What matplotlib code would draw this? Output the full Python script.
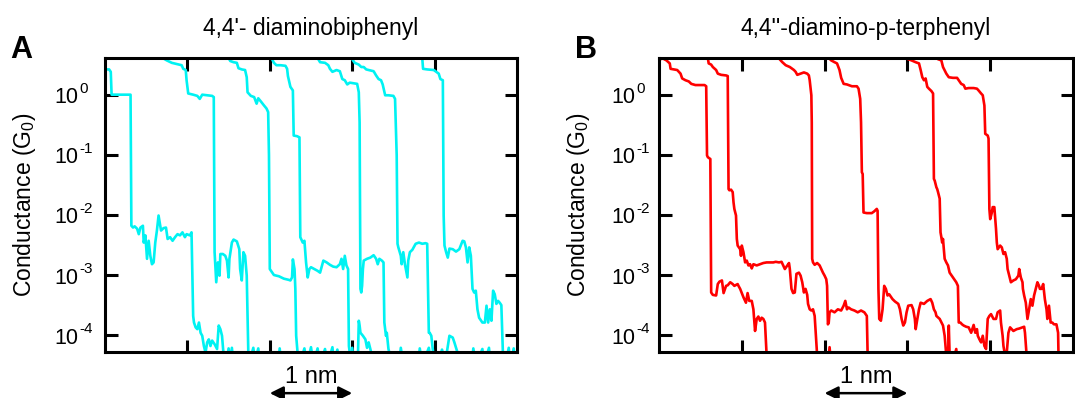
import matplotlib
matplotlib.use('Agg')
import matplotlib.pyplot as plt
from matplotlib.transforms import offset_copy
import numpy as np

plt.rcParams['font.family'] = ['Liberation Sans', 'DejaVu Sans']
plt.rcParams['mathtext.fontset'] = 'custom'
plt.rcParams['mathtext.rm'] = 'Liberation Sans'
plt.rcParams['mathtext.it'] = 'Liberation Sans:italic'
plt.rcParams['mathtext.bf'] = 'Liberation Sans:bold'
plt.rcParams['mathtext.default'] = 'regular'

# ---- data: (displacement in nm, log10 conductance in G0) ----
A1 = [(0.00,0.42),(0.05,0.42),(0.07,0.38),(0.08,0.00),(0.31,0.00),(0.32,-2.18),(0.34,-2.21),(0.36,-2.19),
      (0.39,-2.23),(0.41,-2.32),(0.43,-2.21),(0.46,-2.18),(0.47,-2.46),(0.49,-2.34),(0.51,-2.73),(0.53,-2.43),
      (0.55,-2.68),(0.57,-2.82),(0.59,-2.79),(0.61,-2.46),(0.63,-2.26),(0.65,-2.01),(0.68,-2.26),(0.71,-2.22),
      (0.74,-2.21),(0.76,-2.40),(0.79,-2.37),(0.82,-2.43),(0.85,-2.37),(0.88,-2.32),(0.91,-2.34),(0.94,-2.29),
      (0.97,-2.37),(0.99,-2.32),(1.03,-2.34),(1.05,-2.29),(1.07,-3.68),(1.08,-3.79),(1.10,-3.87),(1.12,-3.90),
      (1.14,-3.79),(1.16,-3.96),(1.18,-4.01),(1.20,-4.18),(1.22,-4.29),(1.24,-4.12),(1.26,-4.07),(1.28,-4.18),
      (1.30,-4.09),(1.33,-4.15),(1.36,-4.23),(1.38,-3.84),(1.40,-3.90),(1.42,-4.01),(1.44,-4.34),(1.47,-4.50),
      (1.50,-4.22),(1.52,-4.45),(1.54,-4.21),(1.56,-4.50)]
A2 = [(0.70,0.61),(0.75,0.57),(0.81,0.53),(0.87,0.51),(0.93,0.49),(0.95,0.43),(0.98,0.41),(0.99,0.24),
      (1.01,0.02),(1.07,0.00),(1.12,-0.02),(1.15,-0.07),(1.18,0.00),(1.24,-0.01),(1.30,-0.02),(1.32,-0.04),
      (1.33,-2.62),(1.35,-3.12),(1.37,-2.79),(1.39,-3.01),(1.40,-2.65),(1.43,-2.65),(1.46,-2.68),(1.48,-2.76),
      (1.50,-3.04),(1.51,-2.73),(1.54,-2.46),(1.56,-2.41),(1.60,-2.44),(1.63,-2.57),(1.64,-2.90),(1.66,-3.09),
      (1.68,-2.62),(1.70,-2.68),(1.72,-3.01),(1.73,-3.68),(1.74,-4.34),(1.76,-4.42),(1.80,-4.21),(1.82,-4.45),
      (1.86,-4.22),(1.88,-4.50),(2.10,-4.50),(2.12,-4.22),(2.14,-4.50)]
A3 = [(1.50,0.61),(1.52,0.56),(1.56,0.54),(1.60,0.53),(1.62,0.44),(1.66,0.42),(1.70,0.41),(1.72,0.29),
      (1.73,0.04),(1.77,-0.02),(1.81,-0.04),(1.84,-0.15),(1.86,-0.06),(1.89,-0.11),(1.93,-0.18),(1.96,-0.23),
      (1.98,-0.29),(1.99,-1.01),(2.00,-2.90),(2.05,-3.00),(2.11,-3.02),(2.17,-3.06),(2.23,-3.08),(2.25,-3.09),
      (2.27,-3.04),(2.28,-2.74),(2.30,-2.90),(2.31,-3.23),(2.32,-4.01),(2.34,-4.34),(2.37,-4.45),(2.42,-4.22),
      (2.45,-4.50),(2.50,-4.20),(2.53,-4.50),(2.58,-4.22),(2.61,-4.50),(2.67,-4.23),(2.70,-4.50),(2.76,-4.20),
      (2.78,-4.50),(2.82,-4.24),(2.85,-4.50),(2.98,-4.50),(3.00,-4.21),(3.02,-4.50)]
A4 = [(2.02,0.61),(2.05,0.53),(2.08,0.49),(2.13,0.49),(2.19,0.48),(2.21,0.43),(2.22,0.31),(2.25,0.13),
      (2.28,0.07),(2.29,-0.68),(2.33,-0.69),(2.36,-0.71),(2.37,-2.37),(2.40,-2.46),(2.42,-2.43),(2.44,-2.79),
      (2.46,-3.04),(2.48,-2.90),(2.50,-2.87),(2.54,-2.90),(2.58,-2.93),(2.61,-2.96),(2.65,-2.76),(2.69,-2.79),
      (2.73,-2.83),(2.77,-2.86),(2.81,-2.87),(2.85,-2.82),(2.87,-2.73),(2.89,-2.90),(2.91,-2.68),(2.93,-2.84),
      (2.95,-2.90),(2.96,-4.18),(2.98,-4.40),(3.01,-4.30),(3.04,-4.45),(3.07,-4.33),(3.08,-3.76),(3.09,-3.84),
      (3.10,-3.96),(3.13,-4.01),(3.16,-4.07),(3.18,-4.21),(3.20,-4.12),(3.22,-4.23),(3.24,-4.34),(3.27,-4.45)]
A5 = [(2.58,0.61),(2.61,0.54),(2.67,0.53),(2.71,0.49),(2.73,0.43),(2.76,0.38),(2.81,0.41),(2.85,0.39),
      (2.88,0.26),(2.91,0.24),(2.94,0.17),(2.97,0.20),(3.06,0.18),(3.08,0.04),(3.09,-0.46),(3.10,-3.23),
      (3.11,-3.29),(3.12,-3.18),(3.13,-2.90),(3.14,-2.76),(3.18,-2.73),(3.22,-2.71),(3.26,-2.67),(3.29,-2.73),
      (3.31,-2.82),(3.33,-2.73),(3.36,-2.76),(3.38,-2.79),(3.39,-3.79),(3.41,-4.01),(3.42,-3.96),(3.44,-4.23),
      (3.46,-4.34),(3.50,-4.42),(3.54,-4.30),(3.57,-4.45),(3.59,-4.21),(3.62,-4.50),(3.80,-4.50),(3.82,-4.22),
      (3.85,-4.50),(3.93,-4.21),(3.96,-4.50)]
A6 = [(2.99,0.61),(3.03,0.53),(3.08,0.50),(3.11,0.46),(3.14,0.46),(3.17,0.42),(3.20,0.41),(3.26,0.39),
      (3.29,0.32),(3.32,0.26),(3.35,0.24),(3.37,0.17),(3.40,-0.01),(3.44,-0.01),(3.50,-0.02),(3.52,-0.07),
      (3.54,-1.01),(3.55,-2.48),(3.56,-2.54),(3.59,-2.68),(3.60,-2.82),(3.62,-2.62),(3.64,-2.82),(3.67,-3.04),
      (3.68,-2.76),(3.70,-2.62),(3.73,-2.58),(3.77,-2.48),(3.81,-2.46),(3.85,-2.48),(3.89,-2.47),(3.91,-2.48),
      (3.93,-3.96),(3.94,-3.96),(3.96,-4.01),(3.98,-4.26),(4.01,-4.34),(4.05,-4.42),(4.09,-4.24),(4.13,-4.45),
      (4.18,-4.01),(4.22,-4.04),(4.24,-4.12),(4.26,-4.21),(4.29,-4.34),(4.33,-4.45),(4.45,-4.50),(4.47,-4.22),
      (4.50,-4.50),(4.58,-4.23),(4.60,-4.50),(4.66,-4.21),(4.68,-4.50)]
A7 = [(3.85,0.61),(3.86,0.43),(3.91,0.42),(3.99,0.41),(4.05,0.35),(4.07,0.26),(4.10,0.24),(4.11,-2.01),
      (4.12,-2.51),(4.14,-2.62),(4.16,-2.71),(4.18,-2.56),(4.22,-2.57),(4.26,-2.61),(4.30,-2.57),(4.34,-2.43),
      (4.36,-2.44),(4.38,-2.54),(4.40,-2.79),(4.42,-2.54),(4.44,-2.68),(4.46,-3.23),(4.48,-3.29),(4.50,-3.26),
      (4.52,-3.57),(4.54,-3.71),(4.58,-3.79),(4.61,-3.79),(4.63,-3.51),(4.65,-3.79),(4.67,-3.57),(4.69,-3.76),
      (4.71,-3.26),(4.73,-3.32),(4.75,-3.48),(4.77,-3.43),(4.79,-3.46),(4.81,-3.50),(4.83,-4.34),(4.87,-4.42),
      (4.90,-4.21),(4.92,-4.50),(4.96,-4.22),(4.98,-4.50)]

B1 = [(0.00,0.61),(0.01,0.59),(0.05,0.60),(0.09,0.57),(0.13,0.52),(0.14,0.43),(0.18,0.42),(0.22,0.41),
      (0.26,0.35),(0.28,0.27),(0.32,0.24),(0.36,0.22),(0.39,0.18),(0.44,0.16),(0.50,0.16),(0.55,0.16),
      (0.57,0.14),(0.58,-1.01),(0.59,-1.04),(0.62,-1.07),(0.63,-3.29),(0.65,-3.33),(0.69,-3.34),(0.71,-3.15),
      (0.73,-3.11),(0.76,-3.09),(0.78,-3.30),(0.81,-3.18),(0.83,-3.17),(0.86,-3.12),(0.89,-3.15),(0.91,-3.18),
      (0.95,-3.15),(0.96,-3.18),(0.98,-3.23),(1.00,-3.30),(1.02,-3.37),(1.05,-3.46),(1.07,-3.30),(1.09,-3.43),
      (1.12,-3.43),(1.14,-3.57),(1.16,-3.93),(1.18,-3.73),(1.20,-3.69),(1.22,-3.76),(1.24,-3.71),(1.26,-3.73),
      (1.28,-3.79),(1.30,-4.34),(1.33,-4.50)]
B2 = [(0.59,0.61),(0.60,0.52),(0.63,0.50),(0.65,0.46),(0.69,0.41),(0.71,0.35),(0.75,0.33),(0.81,0.32),
      (0.83,0.31),(0.84,-1.57),(0.85,-1.59),(0.87,-1.58),(0.89,-1.62),(0.90,-1.79),(0.91,-1.90),(0.93,-2.01),
      (0.94,-2.40),(0.95,-2.51),(0.98,-2.57),(0.99,-2.68),(1.00,-2.51),(1.02,-2.62),(1.04,-2.79),(1.06,-2.76),
      (1.08,-2.84),(1.10,-2.82),(1.12,-2.89),(1.14,-2.82),(1.18,-2.84),(1.22,-2.82),(1.26,-2.80),(1.30,-2.79),
      (1.34,-2.79),(1.38,-2.79),(1.41,-2.78),(1.45,-2.79),(1.48,-2.78),(1.50,-2.84),(1.52,-2.90),(1.55,-2.84),
      (1.57,-2.80),(1.58,-2.90),(1.60,-3.23),(1.62,-3.30),(1.64,-3.29),(1.66,-2.98),(1.69,-2.96),(1.71,-3.01),
      (1.73,-3.12),(1.75,-3.29),(1.77,-3.23),(1.79,-3.33),(1.80,-3.48),(1.82,-3.57),(1.84,-3.59),(1.86,-3.57),
      (1.88,-3.68),(1.89,-3.90),(1.90,-4.12),(1.91,-4.34),(1.95,-4.45),(2.04,-4.50),(2.06,-4.20),(2.08,-4.50)]
B3 = [(1.43,0.61),(1.45,0.60),(1.49,0.54),(1.53,0.49),(1.58,0.46),(1.61,0.43),(1.63,0.41),(1.65,0.38),
      (1.67,0.33),(1.71,0.35),(1.75,0.37),(1.79,0.35),(1.81,0.32),(1.82,0.24),(1.84,-0.01),(1.845,-0.46),
      (1.85,-2.73),(1.86,-2.79),(1.88,-2.83),(1.91,-2.80),(1.94,-2.84),(1.96,-2.90),(1.98,-2.96),(2.00,-3.01),
      (2.02,-3.07),(2.03,-3.18),(2.04,-3.82),(2.05,-3.79),(2.06,-3.62),(2.08,-3.59),(2.12,-3.62),(2.16,-3.57),
      (2.20,-3.59),(2.23,-3.51),(2.25,-3.43),(2.27,-3.57),(2.29,-3.54),(2.32,-3.57),(2.36,-3.59),(2.40,-3.62),
      (2.44,-3.59),(2.48,-3.62),(2.51,-3.68),(2.52,-4.34),(2.55,-4.50)]
B4 = [(2.05,0.61),(2.08,0.57),(2.12,0.54),(2.15,0.52),(2.18,0.41),(2.20,0.28),(2.23,0.18),(2.27,0.17),
      (2.33,0.14),(2.39,0.14),(2.41,0.10),(2.43,-0.07),(2.44,-0.46),(2.45,-1.29),(2.46,-1.32),(2.47,-1.96),
      (2.51,-1.97),(2.57,-1.97),(2.60,-1.94),(2.63,-1.90),(2.64,-1.93),(2.65,-3.23),(2.66,-3.73),(2.68,-3.76),
      (2.70,-3.57),(2.72,-3.18),(2.74,-3.23),(2.76,-3.34),(2.78,-3.32),(2.82,-3.40),(2.85,-3.44),(2.89,-3.48),
      (2.91,-3.57),(2.93,-3.73),(2.95,-3.84),(2.97,-3.79),(2.99,-3.62),(3.01,-3.51),(3.05,-3.50),(3.07,-3.57),
      (3.09,-3.73),(3.10,-3.90),(3.12,-3.73),(3.14,-3.57),(3.16,-3.46),(3.20,-3.48),(3.24,-3.43),(3.28,-3.40),
      (3.30,-3.46),(3.32,-3.57),(3.34,-3.62),(3.35,-3.68),(3.39,-3.73),(3.43,-3.84),(3.45,-4.01),(3.47,-4.34),
      (3.49,-4.45),(3.50,-3.84),(3.51,-4.34),(3.55,-4.45),(3.59,-4.23),(3.61,-4.50)]
B5 = [(2.97,0.61),(3.01,0.59),(3.05,0.57),(3.10,0.54),(3.14,0.52),(3.16,0.41),(3.18,0.29),(3.20,0.24),
      (3.22,0.27),(3.24,0.13),(3.26,0.10),(3.29,0.06),(3.31,0.02),(3.32,-1.40),(3.33,-1.43),(3.35,-1.54),
      (3.36,-1.57),(3.37,-1.62),(3.39,-1.73),(3.40,-2.29),(3.41,-2.37),(3.42,-2.46),(3.43,-2.40),(3.44,-2.57),
      (3.45,-2.73),(3.47,-2.79),(3.49,-2.84),(3.51,-2.96),(3.55,-3.04),(3.59,-3.12),(3.60,-3.15),(3.61,-3.18),
      (3.62,-3.79),(3.64,-3.79),(3.66,-3.82),(3.68,-3.84),(3.71,-3.86),(3.74,-3.87),(3.77,-3.96),(3.80,-3.83),
      (3.82,-3.96),(3.84,-3.90),(3.85,-4.01),(3.87,-4.07),(3.89,-4.12),(3.91,-4.01),(3.93,-4.18),(3.95,-4.23),
      (3.97,-3.73),(3.99,-3.68),(4.01,-3.65),(4.04,-3.73),(4.07,-3.73),(4.09,-3.62),(4.12,-3.59),(4.13,-3.79),
      (4.15,-4.01),(4.16,-4.18),(4.18,-4.34),(4.20,-4.29),(4.22,-3.96),(4.24,-3.87),(4.28,-3.93),(4.32,-3.90),
      (4.35,-3.89),(4.39,-3.87),(4.41,-3.86),(4.42,-3.96),(4.44,-4.34),(4.47,-4.45)]
B6 = [(3.35,0.61),(3.37,0.59),(3.41,0.57),(3.43,0.46),(3.47,0.35),(3.50,0.29),(3.55,0.28),(3.60,0.28),
      (3.63,0.22),(3.65,0.18),(3.68,0.16),(3.70,0.10),(3.74,0.11),(3.80,0.11),(3.84,0.10),(3.86,0.07),
      (3.89,0.02),(3.91,-0.01),(3.93,-0.18),(3.94,-0.65),(3.97,-0.68),(3.98,-0.73),(3.99,-1.90),(4.00,-2.07),
      (4.02,-1.96),(4.03,-1.87),(4.05,-1.87),(4.07,-2.23),(4.08,-2.46),(4.09,-2.57),(4.12,-2.51),(4.14,-2.54),
      (4.16,-2.65),(4.18,-2.62),(4.20,-2.73),(4.21,-2.90),(4.23,-3.01),(4.25,-3.12),(4.28,-3.09),(4.31,-3.07),
      (4.34,-3.01),(4.35,-2.90),(4.37,-3.04),(4.39,-3.12),(4.395,-3.23),(4.41,-3.34),(4.43,-3.46),(4.45,-3.73),
      (4.47,-3.57),(4.49,-3.40),(4.51,-3.51),(4.53,-3.34),(4.55,-3.23),(4.57,-3.12),(4.59,-3.18),(4.60,-3.23),
      (4.62,-3.23),(4.64,-3.15),(4.66,-3.40),(4.68,-3.57),(4.69,-3.73),(4.71,-3.51),(4.73,-3.79),(4.75,-3.79),
      (4.77,-3.82),(4.80,-3.82),(4.82,-3.96),(4.825,-4.34),(4.86,-4.50)]

traces_A = [A1, A2, A3, A4, A5, A6, A7]
traces_B = [B1, B2, B3, B4, B5, B6]
titles = ["4,4'- diaminobiphenyl", "4,4''-diamino-p-terphenyl"]
panel_labels = ["A", "B"]
colors = ["#00F2F2", "#FF0000"]
ytick_vals = [1e0, 1e-1, 1e-2, 1e-3, 1e-4]
ytick_base = "10"
ytick_exps = ["0", "-1", "-2", "-3", "-4"]
xtick_vals = [1, 2, 3, 4]
scale_label = "1 nm"
ylabel = "Conductance (G$_0$)"

W, H = 1075, 398
fig = plt.figure(figsize=(W / 100, H / 100), dpi=100)

top_px, bot_px = 58, 352
panels = [
    dict(left=105, right=517, traces=traces_A, color=colors[0], title=titles[0],
         label=panel_labels[0], label_x=21, ylab_x=25, lab_off=-27),
    dict(left=659, right=1073, traces=traces_B, color=colors[1], title=titles[1],
         label=panel_labels[1], label_x=586, ylab_x=579, lab_off=-24),
]

for p in panels:
    ax = fig.add_axes([p['left'] / W, 1 - bot_px / H, (p['right'] - p['left']) / W, (bot_px - top_px) / H])
    for tr in p['traces']:
        xs = [t[0] for t in tr]
        gs = [10 ** t[1] for t in tr]
        ax.plot(xs, gs, color=p['color'], lw=1.9, zorder=2, solid_joinstyle='round')
    ax.set_yscale('log')
    ax.set_xlim(0, 5)
    ax.set_ylim(10 ** -4.28, 10 ** 0.61)
    ax.set_yticks(ytick_vals)
    ax.yaxis.set_minor_locator(matplotlib.ticker.NullLocator())
    ax.set_xticks(xtick_vals)
    ax.set_xticklabels([])
    ax.tick_params(axis='both', which='major', direction='in', length=9, width=2.2,
                   top=True, right=True, labelleft=False)
    for s in ax.spines.values():
        s.set_linewidth(2.2)
        s.set_zorder(5)
    # y tick labels: "10" with a raised exponent
    ytr = ax.get_yaxis_transform()
    for v, e in zip(ytick_vals, ytick_exps):
        ax.text(0, v, ytick_base, transform=offset_copy(ytr, fig, x=p['lab_off'], y=-3, units='dots'),
                ha='right', va='center', fontsize=15.5, clip_on=False)
        ax.text(0, v, e, transform=offset_copy(ytr, fig, x=p['lab_off'] + 1, y=6, units='dots'),
                ha='left', va='center', fontsize=11, clip_on=False)
    # scale bar
    ax.annotate('', xy=(3, -0.14), xytext=(2, -0.14), xycoords=ax.get_xaxis_transform(),
                textcoords=ax.get_xaxis_transform(),
                arrowprops=dict(arrowstyle='<|-|>', color='black', lw=1.8,
                                mutation_scale=20, shrinkA=0, shrinkB=0), annotation_clip=False)
    ax.text(2.5, -0.085, scale_label, transform=ax.get_xaxis_transform(), ha='center', va='center',
            fontsize=17)
    # title
    cx = (p['left'] + p['right']) / 2
    fig.text(cx / W, 1 - 28 / H, p['title'], ha='center', va='center', fontsize=16.5)
    fig.text(p['label_x'] / W, 1 - 50 / H, p['label'], ha='center', va='center',
             fontsize=22, fontweight='bold')
    fig.text(p['ylab_x'] / W, 1 - 205 / H, ylabel, rotation=90, ha='center', va='center',
             fontsize=16.5)

fig.savefig('out.png', dpi=100)
